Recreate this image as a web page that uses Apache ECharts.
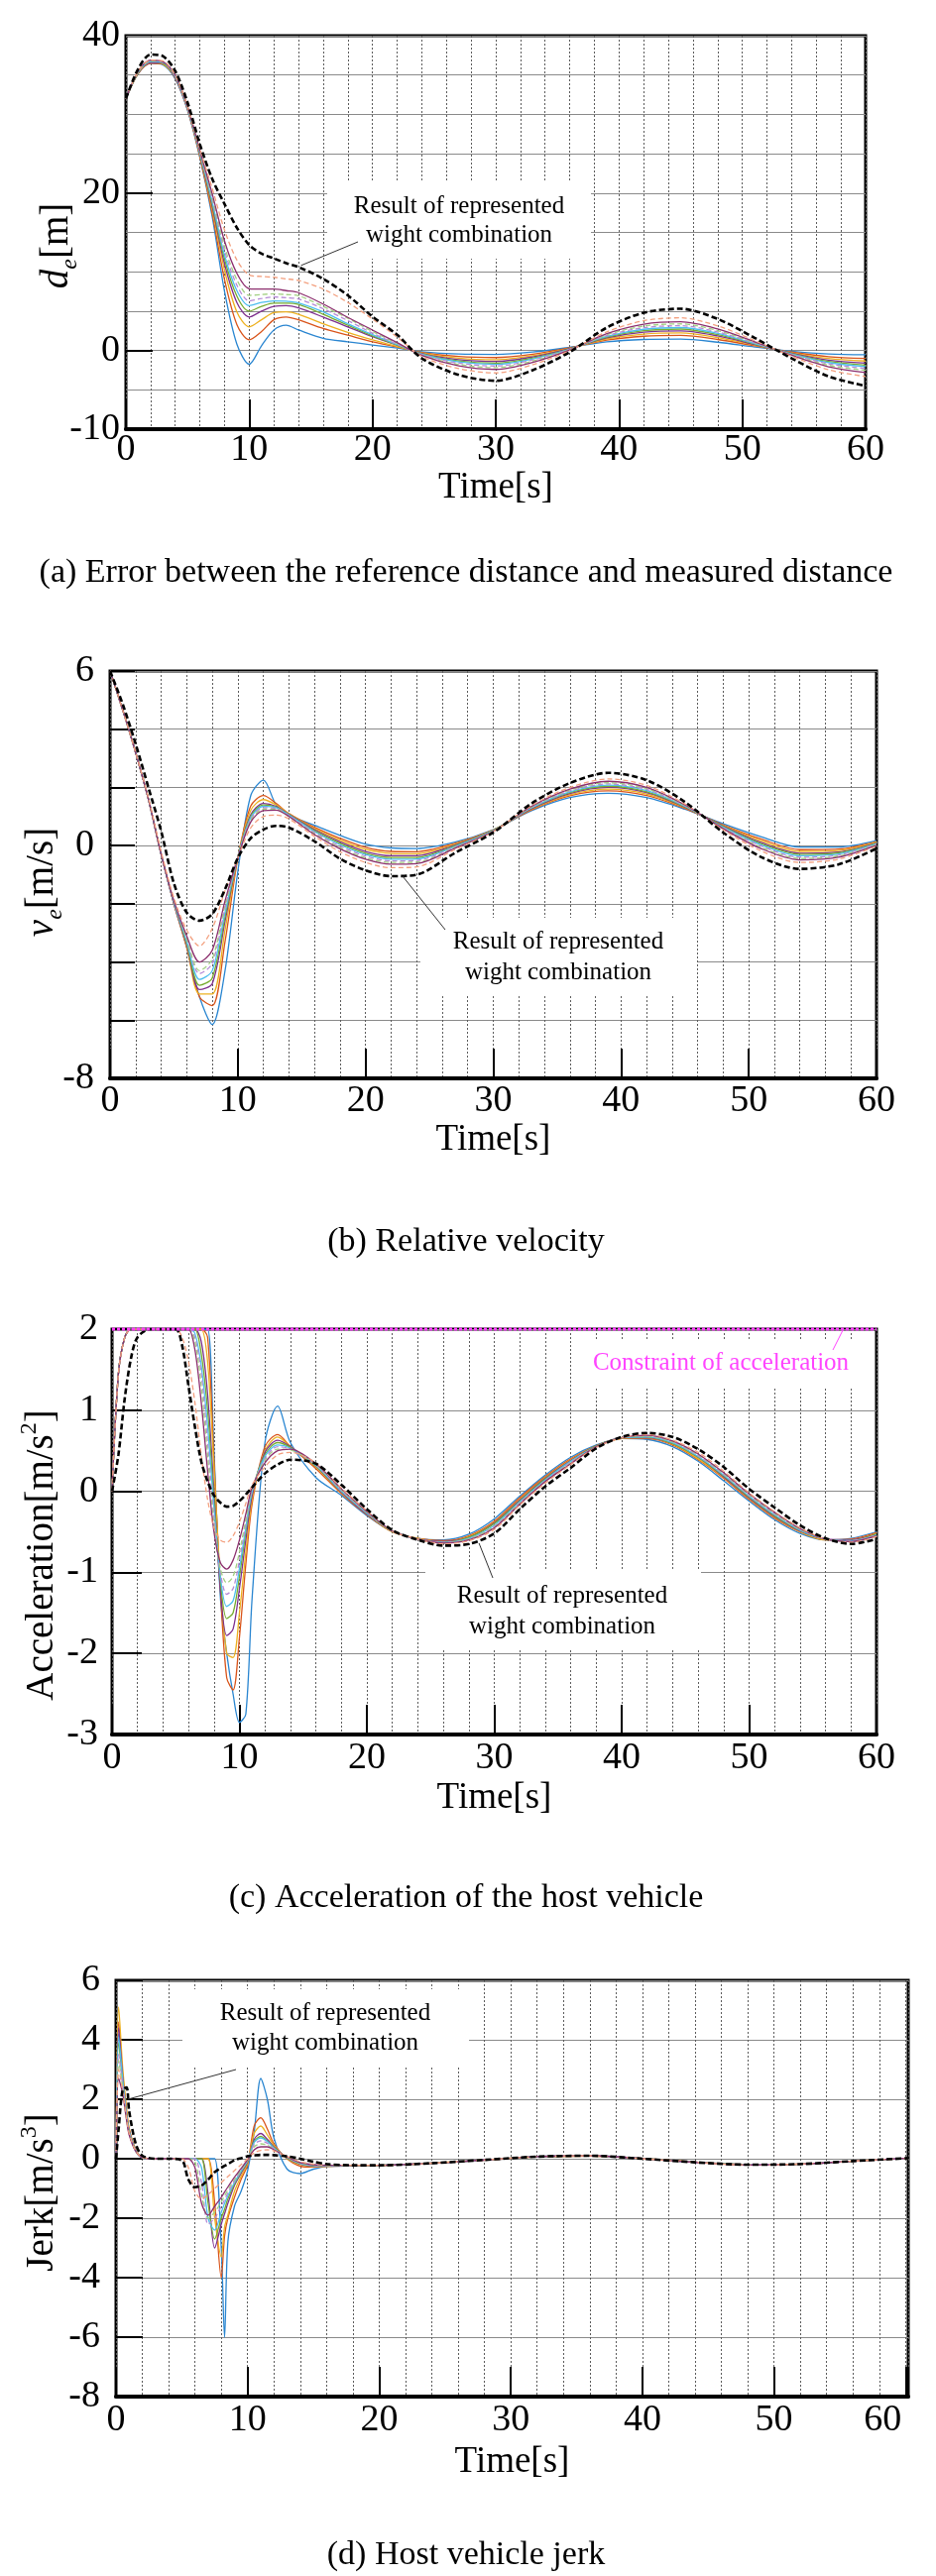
<!DOCTYPE html>
<html><head><meta charset="utf-8">
<script src="https://cdn.jsdelivr.net/npm/echarts@6/dist/echarts.min.js"></script>
<style>html,body{margin:0;padding:0;background:#fff}#c{width:944px;height:2599px}</style>
</head><body><div id="c"></div>
<script>
// ---------------- DATA ----------------
const seriesNames = ['w1','w2','w3','w4','w5','w6','w7','w8','w9','w10'];
const repName = 'Represented weight combination';

// (a) distance error d_e [m]
const timeA = [0,1,2,3,4,5,6,7,8,9,10,11,12,13,14,16,18,20,22,24,27,30,33,36,39,42,45,48,51,54,57,60];
const dA_w1 = [32,35.2,36.5,36.3,34.5,30.5,24.5,17.0,7.5,0.8,-1.75,0.6,2.6,3.2,2.6,1.55,1.1,0.7,0.3,-0.15,-0.45,-0.5,-0.2,0.4,1.1,1.4,1.45,1.05,0.45,-0.1,-0.45,-0.55];
const dA_w2 = [32,35.2,36.5,36.4,34.6,30.6,24.6,17.4,9.0,3.3,1.35,2.4,3.9,4.25,3.9,2.8,1.95,1.1,0.45,-0.25,-0.77,-0.9,-0.48,0.33,1.32,1.81,1.91,1.4,0.59,-0.21,-0.79,-1.02];
const dA_w3 = [32,35.3,36.6,36.4,34.7,30.7,24.8,17.9,10.2,4.9,3.0,3.9,4.8,4.9,4.6,3.4,2.3,1.35,0.5,-0.32,-0.98,-1.17,-0.66,0.28,1.46,2.08,2.22,1.64,0.68,-0.28,-1.02,-1.34];
const dA_w4 = [32,35.3,36.6,36.5,34.7,30.7,24.9,18.3,11.0,6.1,4.25,5.0,5.6,5.7,5.4,4.25,3.0,1.75,0.7,-0.38,-1.17,-1.4,-0.82,0.24,1.59,2.32,2.49,1.85,0.76,-0.34,-1.22,-1.62];
const dA_w5 = [32,35.3,36.7,36.5,34.8,30.8,25.0,18.6,11.6,6.9,5.0,5.6,6.0,6.0,5.85,4.6,3.2,1.85,0.7,-0.43,-1.32,-1.61,-0.96,0.2,1.69,2.52,2.72,2.02,0.83,-0.4,-1.39,-1.85];
const dA_w6 = [32,35.4,36.7,36.6,34.8,30.8,25.1,18.9,12.1,7.6,5.7,6.1,6.3,6.25,6.05,4.9,3.4,2.0,0.75,-0.47,-1.46,-1.77,-1.07,0.17,1.78,2.69,2.91,2.17,0.89,-0.44,-1.53,-2.05];
const dA_w7 = [32,35.4,36.8,36.6,34.9,30.9,25.2,19.2,12.7,8.3,6.3,6.6,6.8,6.7,6.55,5.3,3.8,2.2,0.8,-0.52,-1.62,-1.97,-1.21,0.14,1.89,2.9,3.14,2.35,0.96,-0.5,-1.7,-2.29];
const dA_w8 = [32,35.4,36.8,36.7,34.9,30.9,25.3,19.5,13.2,9.0,7.0,7.1,7.2,7.1,6.95,5.6,4.1,2.4,0.9,-0.58,-1.78,-2.18,-1.35,0.1,2.0,3.1,3.38,2.53,1.03,-0.55,-1.88,-2.53];
const dA_w9 = [32,35.5,36.9,36.7,35.0,31.0,25.4,19.9,13.9,9.8,7.85,7.8,7.8,7.6,7.35,5.9,4.2,2.6,1.0,-0.63,-1.96,-2.41,-1.51,0.06,2.13,3.34,3.64,2.73,1.11,-0.61,-2.07,-2.8];
const dA_w10 = [32,35.5,36.9,36.8,35.0,31.0,25.6,20.6,15.3,11.5,9.6,9.4,9.3,9.1,8.9,7.8,6.1,4.0,1.7,-0.75,-2.3,-2.85,-1.81,-0.02,2.36,3.78,4.15,3.12,1.26,-0.73,-2.45,-3.32];
const dA_rep = [32,35.8,37.6,37.4,35.5,31.5,26.2,21.8,18.6,15.6,13.4,12.3,11.7,11.1,10.6,9.1,7.0,4.3,2.0,-1.0,-3.1,-3.85,-2.5,-0.2,2.9,4.8,5.3,4.0,1.6,-1.0,-3.3,-4.5];

// (b) relative velocity v_e [m/s]
const timeB = [0,1,2,3,4,5,6,7,8,9,10,11,12,13,14,16,18,20,22,24,27,30,33,36,39,42,45,48,51,54,57,60];
const vB_w1 = [6,4.65,3.2,1.6,-0.3,-2.0,-3.5,-5.2,-6.15,-4.3,-0.9,1.7,2.25,1.4,1.05,0.7,0.35,0.05,-0.08,-0.1,0.12,0.55,1.2,1.65,1.8,1.65,1.25,0.75,0.3,-0.05,-0.05,0.17];
const vB_w2 = [6,4.65,3.2,1.6,-0.3,-2.0,-3.5,-5.2,-5.5,-3.3,-0.45,1.35,1.72,1.45,1.1,0.63,0.25,-0.06,-0.2,-0.21,0.08,0.54,1.23,1.71,1.88,1.72,1.28,0.71,0.22,-0.14,-0.12,0.14];
const vB_w3 = [6,4.65,3.2,1.6,-0.3,-2.0,-3.45,-5.1,-5.1,-2.9,-0.4,1.2,1.58,1.4,1.1,0.59,0.19,-0.13,-0.27,-0.28,0.05,0.53,1.25,1.75,1.94,1.77,1.3,0.69,0.16,-0.2,-0.17,0.12];
const vB_w4 = [6,4.65,3.2,1.6,-0.3,-2.0,-3.4,-4.95,-4.75,-2.6,-0.4,1.05,1.45,1.35,1.08,0.55,0.13,-0.2,-0.35,-0.35,0.02,0.52,1.27,1.79,2.0,1.82,1.32,0.67,0.1,-0.26,-0.22,0.09];
const vB_w5 = [6,4.65,3.2,1.6,-0.3,-1.95,-3.35,-4.8,-4.55,-2.45,-0.4,1.0,1.4,1.32,1.06,0.51,0.08,-0.26,-0.41,-0.41,-0.01,0.52,1.29,1.82,2.04,1.85,1.34,0.65,0.06,-0.3,-0.25,0.08];
const vB_w6 = [6,4.65,3.2,1.6,-0.3,-1.95,-3.3,-4.6,-4.3,-2.3,-0.4,0.95,1.35,1.3,1.05,0.48,0.03,-0.31,-0.47,-0.46,-0.03,0.51,1.3,1.85,2.08,1.89,1.35,0.63,0.02,-0.35,-0.29,0.06];
const vB_w7 = [6,4.65,3.2,1.6,-0.3,-1.9,-3.2,-4.4,-4.05,-2.15,-0.4,0.9,1.3,1.28,1.03,0.45,-0.02,-0.36,-0.53,-0.51,-0.05,0.5,1.32,1.88,2.12,1.93,1.37,0.61,-0.02,-0.4,-0.33,0.05];
const vB_w8 = [6,4.65,3.2,1.6,-0.3,-1.9,-3.2,-4.3,-3.9,-2.05,-0.4,0.85,1.25,1.25,1.0,0.41,-0.07,-0.42,-0.58,-0.57,-0.07,0.5,1.33,1.91,2.16,1.96,1.38,0.59,-0.06,-0.44,-0.36,0.03];
const vB_w9 = [6,4.65,3.2,1.6,-0.3,-1.9,-3.1,-4.0,-3.6,-1.9,-0.42,0.8,1.2,1.22,1.0,0.38,-0.11,-0.47,-0.64,-0.62,-0.09,0.49,1.35,1.94,2.21,2.0,1.4,0.58,-0.11,-0.49,-0.4,0.01];
const vB_w10 = [6,4.65,3.2,1.65,-0.2,-1.8,-2.9,-3.45,-2.85,-1.55,-0.43,0.6,1.0,1.05,0.92,0.32,-0.21,-0.58,-0.76,-0.73,-0.14,0.48,1.38,2.0,2.29,2.07,1.43,0.54,-0.19,-0.58,-0.47,-0.02];
const vB_rep = [6,4.85,3.5,2.0,0.5,-1.3,-2.3,-2.58,-2.35,-1.5,-0.43,0.25,0.55,0.68,0.62,0.15,-0.45,-0.85,-1.05,-1.0,-0.25,0.45,1.45,2.15,2.5,2.25,1.5,0.45,-0.4,-0.8,-0.65,-0.1];

// (c) acceleration of host vehicle [m/s^2]
const accelLimit = 2;
const limitTimes = [0, 60];
const timeC = [0,0.5,1,1.5,2,3,4,5,5.5,6,6.5,7,7.5,8,8.5,9,9.5,10,10.5,11,12,13,14,16,18,20,22,24,26,28,30,32,34,36,38,40,42,44,46,48,50,52,54,56,58,60];
const aC_w1 = [0,1.45,1.9,2.0,2.0,2.0,2.0,2.0,2.0,2.0,2.0,2.0,2.0,0.5,-1.3,-2.0,-2.5,-2.85,-2.75,-1.3,0.6,1.05,0.6,0.17,-0.05,-0.3,-0.5,-0.58,-0.6,-0.53,-0.34,-0.06,0.2,0.42,0.57,0.65,0.64,0.55,0.37,0.13,-0.12,-0.35,-0.52,-0.6,-0.58,-0.5];
const aC_w2 = [0,1.45,1.9,2.0,2.0,2.0,2.0,2.0,2.0,2.0,2.0,2.0,1.9,0.4,-1.2,-2.3,-2.45,-1.8,-0.9,-0.15,0.55,0.7,0.55,0.28,-0.03,-0.29,-0.5,-0.58,-0.61,-0.55,-0.37,-0.08,0.18,0.4,0.56,0.65,0.65,0.57,0.39,0.16,-0.1,-0.33,-0.5,-0.6,-0.59,-0.51];
const aC_w3 = [0,1.45,1.9,2.0,2.0,2.0,2.0,2.0,2.0,2.0,2.0,2.0,1.6,0.3,-1.1,-2.0,-2.05,-1.5,-0.75,-0.1,0.5,0.67,0.55,0.3,-0.02,-0.28,-0.5,-0.58,-0.62,-0.56,-0.38,-0.1,0.17,0.39,0.56,0.65,0.66,0.58,0.4,0.17,-0.09,-0.32,-0.5,-0.6,-0.6,-0.52];
const aC_w4 = [0,1.45,1.9,2.0,2.0,2.0,2.0,2.0,2.0,2.0,2.0,1.85,1.2,0.0,-1.2,-1.78,-1.7,-1.2,-0.6,-0.05,0.48,0.63,0.55,0.31,-0.01,-0.28,-0.49,-0.59,-0.62,-0.57,-0.39,-0.11,0.16,0.38,0.56,0.66,0.66,0.59,0.42,0.18,-0.08,-0.31,-0.49,-0.59,-0.6,-0.53];
const aC_w5 = [0,1.45,1.9,2.0,2.0,2.0,2.0,2.0,2.0,2.0,2.0,1.7,1.0,-0.1,-1.1,-1.57,-1.5,-1.05,-0.5,0.0,0.45,0.6,0.54,0.31,0.0,-0.27,-0.49,-0.59,-0.63,-0.57,-0.4,-0.12,0.15,0.37,0.56,0.66,0.67,0.59,0.42,0.19,-0.07,-0.3,-0.48,-0.59,-0.61,-0.53];
const aC_w6 = [0,1.45,1.9,2.0,2.0,2.0,2.0,2.0,2.0,2.0,1.95,1.55,0.8,-0.2,-1.05,-1.42,-1.35,-0.95,-0.45,0.0,0.43,0.57,0.53,0.32,0.0,-0.27,-0.49,-0.59,-0.63,-0.58,-0.42,-0.13,0.14,0.37,0.55,0.66,0.67,0.6,0.43,0.2,-0.06,-0.29,-0.48,-0.59,-0.61,-0.54];
const aC_w7 = [0,1.45,1.9,2.0,2.0,2.0,2.0,2.0,2.0,2.0,1.9,1.45,0.6,-0.3,-1.0,-1.27,-1.2,-0.85,-0.4,0.02,0.4,0.55,0.52,0.32,0.01,-0.26,-0.49,-0.59,-0.63,-0.59,-0.43,-0.14,0.13,0.36,0.55,0.66,0.68,0.61,0.44,0.21,-0.05,-0.28,-0.47,-0.59,-0.61,-0.54];
const aC_w8 = [0,1.45,1.9,2.0,2.0,2.0,2.0,2.0,2.0,2.0,1.85,1.3,0.45,-0.4,-0.95,-1.13,-1.05,-0.75,-0.35,0.03,0.38,0.52,0.51,0.33,0.02,-0.26,-0.49,-0.59,-0.64,-0.59,-0.44,-0.15,0.12,0.35,0.55,0.66,0.68,0.61,0.45,0.22,-0.04,-0.27,-0.47,-0.59,-0.62,-0.55];
const aC_w9 = [0,1.45,1.9,2.0,2.0,2.0,2.0,2.0,2.0,2.0,1.75,1.1,0.25,-0.5,-0.88,-0.96,-0.85,-0.6,-0.28,0.05,0.35,0.5,0.52,0.34,0.03,-0.25,-0.49,-0.59,-0.64,-0.6,-0.45,-0.16,0.12,0.34,0.55,0.66,0.69,0.62,0.46,0.23,-0.03,-0.26,-0.46,-0.59,-0.62,-0.55];
const aC_w10 = [0,1.45,1.9,2.0,2.0,2.0,2.0,2.0,1.9,1.6,1.1,0.45,-0.1,-0.45,-0.6,-0.63,-0.55,-0.38,-0.15,0.08,0.3,0.45,0.48,0.35,0.04,-0.24,-0.49,-0.59,-0.65,-0.61,-0.47,-0.17,0.1,0.33,0.54,0.66,0.7,0.63,0.48,0.25,-0.02,-0.25,-0.45,-0.59,-0.63,-0.56];
const aC_rep = [0,0.45,1.15,1.65,1.9,2.0,2.0,2.0,1.8,1.3,0.8,0.37,0.12,-0.05,-0.14,-0.19,-0.18,-0.12,-0.04,0.05,0.22,0.33,0.39,0.34,0.08,-0.22,-0.48,-0.6,-0.67,-0.65,-0.52,-0.22,0.06,0.29,0.53,0.67,0.72,0.67,0.52,0.3,0.03,-0.2,-0.42,-0.58,-0.65,-0.59];

// (d) host vehicle jerk [m/s^3]
const timeD = [0,0.2,0.5,0.8,1,1.5,2,3,4,5,5.5,6,6.5,7,7.5,8,8.25,8.5,9,9.5,10,10.5,11,11.5,12,13,14,15,16,18,20,24,28,32,36,40,44,48,52,56,60.2];
const jD_w1 = [0,4.2,2.8,1.5,0.9,0.25,0.03,0,0,0,0,0,0,0,0,-3.0,-6.0,-2.8,-1.6,-1.1,-0.4,0.9,2.7,2.0,0.7,-0.35,-0.5,-0.35,-0.26,-0.24,-0.23,-0.15,-0.05,0.06,0.09,0.01,-0.11,-0.19,-0.18,-0.09,0.01];
const jD_w2 = [0,4.6,2.9,1.6,1.0,0.3,0.05,0,0,0,0,0,0,0,-1.5,-4.0,-2.6,-2.0,-1.3,-0.7,-0.2,1.1,1.38,1.0,0.5,0.0,-0.25,-0.28,-0.25,-0.24,-0.23,-0.15,-0.05,0.06,0.09,0.01,-0.11,-0.19,-0.18,-0.09,0.01];
const jD_w3 = [0,5.1,3.1,1.7,1.0,0.3,0.05,0,0,0,0,0,0,0,-2.0,-3.3,-2.3,-1.9,-1.1,-0.6,-0.15,0.85,1.1,0.8,0.45,0.0,-0.2,-0.26,-0.25,-0.23,-0.23,-0.15,-0.04,0.06,0.09,0.01,-0.11,-0.2,-0.18,-0.08,0.01];
const jD_w4 = [0,4.4,2.8,1.5,0.95,0.28,0.04,0,0,0,0,0,0,-1.2,-3.0,-2.2,-1.85,-1.5,-0.9,-0.5,-0.1,0.65,0.85,0.65,0.4,0.02,-0.18,-0.25,-0.24,-0.23,-0.22,-0.15,-0.04,0.07,0.1,0.01,-0.12,-0.2,-0.18,-0.08,0.02];
const jD_w5 = [0,3.9,2.6,1.45,0.9,0.27,0.04,0,0,0,0,0,0,-1.5,-2.7,-2.0,-1.7,-1.35,-0.85,-0.45,-0.08,0.58,0.75,0.6,0.38,0.03,-0.17,-0.24,-0.24,-0.23,-0.22,-0.15,-0.04,0.07,0.1,0.0,-0.12,-0.2,-0.18,-0.08,0.02];
const jD_w6 = [0,4.1,2.7,1.45,0.9,0.27,0.04,0,0,0,0,0,-0.3,-2.0,-2.4,-1.8,-1.5,-1.25,-0.8,-0.42,-0.06,0.55,0.7,0.58,0.36,0.04,-0.16,-0.23,-0.24,-0.22,-0.22,-0.15,-0.04,0.07,0.1,0.0,-0.12,-0.2,-0.18,-0.08,0.02];
const jD_w7 = [0,3.5,2.5,1.4,0.85,0.26,0.04,0,0,0,0,0,-0.8,-2.2,-2.0,-1.6,-1.38,-1.15,-0.75,-0.4,-0.05,0.48,0.6,0.52,0.34,0.05,-0.15,-0.22,-0.23,-0.22,-0.22,-0.15,-0.04,0.07,0.1,0.0,-0.12,-0.2,-0.18,-0.08,0.02];
const jD_w8 = [0,3.3,2.4,1.35,0.85,0.25,0.04,0,0,0,0,-0.1,-1.2,-2.0,-1.8,-1.45,-1.25,-1.05,-0.7,-0.37,-0.04,0.4,0.5,0.46,0.32,0.05,-0.14,-0.21,-0.23,-0.22,-0.22,-0.15,-0.04,0.07,0.1,0.0,-0.12,-0.2,-0.18,-0.08,0.02];
const jD_w9 = [0,2.7,2.2,1.3,0.8,0.25,0.04,0,0,0,0,-0.3,-1.5,-1.9,-1.6,-1.3,-1.12,-0.95,-0.62,-0.33,-0.03,0.3,0.4,0.4,0.3,0.06,-0.13,-0.2,-0.22,-0.22,-0.22,-0.15,-0.04,0.07,0.1,0.0,-0.12,-0.21,-0.18,-0.08,0.02];
const jD_w10 = [0,3.0,2.3,1.35,0.85,0.26,0.04,0,0,0,-0.3,-1.1,-1.35,-1.2,-1.0,-0.8,-0.7,-0.6,-0.4,-0.2,0.0,0.2,0.28,0.3,0.26,0.08,-0.1,-0.18,-0.22,-0.22,-0.22,-0.15,-0.04,0.07,0.1,0.0,-0.12,-0.21,-0.18,-0.08,0.02];
const jD_rep = [0,1.0,2.3,2.4,1.6,0.5,0.1,0,0,-0.05,-0.7,-0.96,-0.9,-0.7,-0.45,-0.3,-0.24,-0.18,-0.05,0.02,0.08,0.11,0.13,0.13,0.12,0.08,0.0,-0.1,-0.18,-0.22,-0.22,-0.15,-0.04,0.07,0.1,0.0,-0.12,-0.2,-0.18,-0.08,0.02];

// tick label values
const yTicksA = [40, 20, 0, -10];
const yTickMarksA = [20, 0];
const yTicksB = [6, 0, -8];

// ---------------- STYLE ----------------
const FONT = '"Liberation Serif","Times New Roman",serif';
const lineColors = ['#2a86d1','#d9541a','#edb120','#7e2f8e','#77ac30','#4dbeee','#b58ad6','#a3d083','#8c2f6e','#f3a07f'];
const dashedFlags = [false,false,false,false,false,false,true,true,false,true];

const panels = [
  {t: timeA, vals: [dA_w1,dA_w2,dA_w3,dA_w4,dA_w5,dA_w6,dA_w7,dA_w8,dA_w9,dA_w10], rep: dA_rep,
   grid: {left:127, top:36, width:746, height:397}, xmax: 60, yAxisIndex: 0, labelMargin: 21},
  {t: timeB, vals: [vB_w1,vB_w2,vB_w3,vB_w4,vB_w5,vB_w6,vB_w7,vB_w8,vB_w9,vB_w10], rep: vB_rep,
   grid: {left:111, top:677, width:773, height:411}, xmax: 60, yAxisIndex: 2, labelMargin: 23},
  {t: timeC, vals: [aC_w1,aC_w2,aC_w3,aC_w4,aC_w5,aC_w6,aC_w7,aC_w8,aC_w9,aC_w10], rep: aC_rep,
   grid: {left:113, top:1341, width:771, height:409}, xmax: 60, yAxisIndex: 3, labelMargin: 24},
  {t: timeD, vals: [jD_w1,jD_w2,jD_w3,jD_w4,jD_w5,jD_w6,jD_w7,jD_w8,jD_w9,jD_w10], rep: jD_rep,
   grid: {left:117, top:1998, width:799, height:420}, xmax: 60.2, yAxisIndex: 4, labelMargin: 24}
];

const pairs = (t, v) => t.map((x, i) => [x, v[i]]);
const tickLabel = {fontFamily: FONT, fontSize: 38, color: '#000'};

const grids = [], xAxes = [], yAxes = [], series = [];
panels.forEach((p, gi) => {
  grids.push(Object.assign({show: true, borderColor: '#000', borderWidth: 3, backgroundColor: 'transparent',
    containLabel: false, outerBoundsMode: 'none'}, p.grid));
  // minor vertical grid (every 2 s)
  xAxes.push({gridIndex: gi, type: 'value', min: 0, max: p.xmax, interval: 2, position: 'bottom',
    axisLine: {show: false, onZero: false}, axisTick: {show: false}, axisLabel: {show: false},
    splitLine: {show: true, lineStyle: {color: '#5c5c5c', width: 1, type: [2, 2]}}});
  // labelled axis (every 10 s)
  const isD = gi === 3;
  xAxes.push({gridIndex: gi, type: 'value', min: 0, max: p.xmax, interval: 10, position: 'bottom',
    axisLine: {show: true, onZero: false, lineStyle: {color: '#000', width: 4}},
    axisTick: {show: true, inside: true, length: 30, lineStyle: {color: '#000', width: 2}},
    axisLabel: Object.assign({show: true, margin: p.labelMargin, verticalAlign: 'middle',
      formatter: v => (Math.abs(v - Math.round(v)) > 1e-6 ? '' : (isD && v === 60 ? '{s|60}' : String(v))),
      rich: {s: {fontFamily: FONT, fontSize: 38, color: '#000', padding: [0, 46, 0, 0]}}}, tickLabel),
    splitLine: {show: false}});
});

// y axes
yAxes.push({gridIndex: 0, type: 'value', min: -10, max: 40, interval: 5, position: 'left',
  axisLine: {show: false}, axisTick: {show: false}, axisLabel: {show: false},
  splitLine: {show: true, lineStyle: {color: '#8a8a8a', width: 1}}});
yAxes.push({gridIndex: 0, type: 'value', min: -10, max: 40, interval: 10, position: 'left',
  axisLine: {show: false},
  axisTick: {show: true, inside: true, length: 27, customValues: yTickMarksA, lineStyle: {color: '#000', width: 2}},
  axisLabel: Object.assign({margin: 6, customValues: yTicksA, formatter: v => (yTicksA.includes(v) ? String(v) : '')}, tickLabel),
  splitLine: {show: false}});
yAxes.push({gridIndex: 1, type: 'value', min: -8, max: 6, interval: 2, position: 'left',
  axisLine: {show: false},
  axisTick: {show: true, inside: true, length: 25, lineStyle: {color: '#000', width: 2}},
  axisLabel: Object.assign({margin: 16, formatter: v => (yTicksB.includes(v) ? String(v) : '')}, tickLabel),
  splitLine: {show: true, lineStyle: {color: '#8a8a8a', width: 1}}});
yAxes.push({gridIndex: 2, type: 'value', min: -3, max: 2, interval: 1, position: 'left',
  axisLine: {show: false},
  axisTick: {show: true, inside: true, length: 30, lineStyle: {color: '#000', width: 2}},
  axisLabel: Object.assign({margin: 14}, tickLabel),
  splitLine: {show: true, lineStyle: {color: '#8a8a8a', width: 1}}});
yAxes.push({gridIndex: 3, type: 'value', min: -8, max: 6, interval: 2, position: 'left',
  axisLine: {show: false},
  axisTick: {show: true, inside: true, length: 27, lineStyle: {color: '#000', width: 2}},
  axisLabel: Object.assign({margin: 16}, tickLabel),
  splitLine: {show: true, lineStyle: {color: '#8a8a8a', width: 1}}});

panels.forEach((p, gi) => {
  p.vals.forEach((v, k) => {
    series.push({name: seriesNames[k], type: 'line', xAxisIndex: gi * 2, yAxisIndex: p.yAxisIndex,
      data: pairs(p.t, v), showSymbol: false, smooth: 0.3, z: 2,
      lineStyle: {color: lineColors[k], width: 1.3, type: dashedFlags[k] ? [5, 3] : 'solid'}});
  });
  series.push({name: repName, type: 'line', xAxisIndex: gi * 2, yAxisIndex: p.yAxisIndex,
    data: pairs(p.t, p.rep), showSymbol: false, smooth: 0.3, z: 3,
    lineStyle: {color: '#000', width: 2.6, type: [6, 3]}});
});
series.push({name: 'Constraint of acceleration', type: 'line', xAxisIndex: 4, yAxisIndex: 3,
  data: limitTimes.map(t => [t, accelLimit]), showSymbol: false, clip: false, z: 4,
  lineStyle: {color: '#ff3dff', width: 3, type: [3, 2]}});

const chart = echarts.init(document.getElementById('c'), null, {renderer: 'canvas'});
chart.setOption({animation: false, backgroundColor: '#fff', grid: grids, xAxis: xAxes, yAxis: yAxes, series: series});

// ---------------- TEXT / ANNOTATIONS ----------------
const px = (xi, yi, v) => chart.convertToPixel({xAxisIndex: xi, yAxisIndex: yi}, v);
const g = [];
const txt = (text, x, y, size, color, extra) => Object.assign({type: 'text', z: 6, x, y,
  style: {text, fontFamily: FONT, fontSize: size, fill: color || '#000', align: 'center', verticalAlign: 'middle'}}, extra || {});

const annotations = [
  {box: [330, 184, 266, 77], cx: 463, ys: [208, 237], lines: ['Result of represented', 'wight combination'], color: '#000',
   from: [361, 244], xi: 0, yi: 0, target: [14.2, 10.8]},
  {box: [424, 926, 279, 79], cx: 563, ys: [950, 981], lines: ['Result of represented', 'wight combination'], color: '#000',
   from: [449, 938], xi: 2, yi: 2, target: [22.9, -1.05]},
  {box: [429, 1584, 278, 79], cx: 567, ys: [1610, 1641], lines: ['Result of represented', 'wight combination'], color: '#000',
   from: [497, 1592], xi: 4, yi: 3, target: [28.8, -0.64]},
  {box: [184, 2007, 289, 79], cx: 328, ys: [2031, 2061], lines: ['Result of represented', 'wight combination'], color: '#000',
   from: [238, 2088], xi: 6, yi: 4, target: [0.9, 2.0]},
  {box: [599, 1353, 262, 46], cx: 727, ys: [1375], lines: ['Constraint of acceleration'], color: '#ff44ff',
   from: [840, 1362], xi: 4, yi: 3, target: [57.4, 2.0]}
];
annotations.forEach(a => {
  g.push({type: 'rect', z: 1, shape: {x: a.box[0], y: a.box[1], width: a.box[2], height: a.box[3]}, style: {fill: '#fff'}});
  a.lines.forEach((l, i) => g.push(txt(l, a.cx, a.ys[i], 25, a.color)));
  const end = px(a.xi, a.yi, a.target);
  g.push({type: 'line', z: 6, shape: {x1: a.from[0], y1: a.from[1], x2: end[0], y2: end[1]},
    style: {stroke: a.color === '#000' ? '#333' : a.color, lineWidth: 1}});
});

// x-axis titles, centred on each plot
panels.forEach((p, gi) => {
  const cy = [492, 1150, 1814, 2484][gi];
  g.push(txt('Time[s]', p.grid.left + p.grid.width / 2, cy, 37, '#000'));
});

// captions
[['(a) Error between the reference distance and measured distance', 578],
 ['(b) Relative velocity', 1253],
 ['(c) Acceleration of the host vehicle', 1915],
 ['(d) Host vehicle jerk', 2578]].forEach(c => g.push(txt(c[0], 470, c[1], 34, '#000')));

// rotated y-axis titles
const base = {fontFamily: FONT, fontSize: 39, lineHeight: 50, fill: '#000'};
const rich = {
  n: base,
  i: Object.assign({}, base, {fontStyle: 'italic'}),
  s: {fontFamily: FONT, fontSize: 24, lineHeight: 24, fontStyle: 'italic', verticalAlign: 'bottom', fill: '#000'},
  p: {fontFamily: FONT, fontSize: 24, lineHeight: 24, verticalAlign: 'top', fill: '#000'}
};
[['{i|d}{s|e}{n|[m]}', 58, 248],
 ['{i|v}{s|e}{n|[m/s]}', 43, 890],
 ['{n|Acceleration[m/s}{p|2}{n|]}', 43, 1569],
 ['{n|Jerk[m/s}{p|3}{n|]}', 43, 2212]].forEach(l => {
  g.push({type: 'text', z: 6, x: l[1], y: l[2], rotation: Math.PI / 2,
    style: {text: l[0], rich, align: 'center', verticalAlign: 'middle', fontFamily: FONT, fontSize: 39, fill: '#000'}});
});

chart.setOption({graphic: {elements: g}});
</script>
</body></html>
